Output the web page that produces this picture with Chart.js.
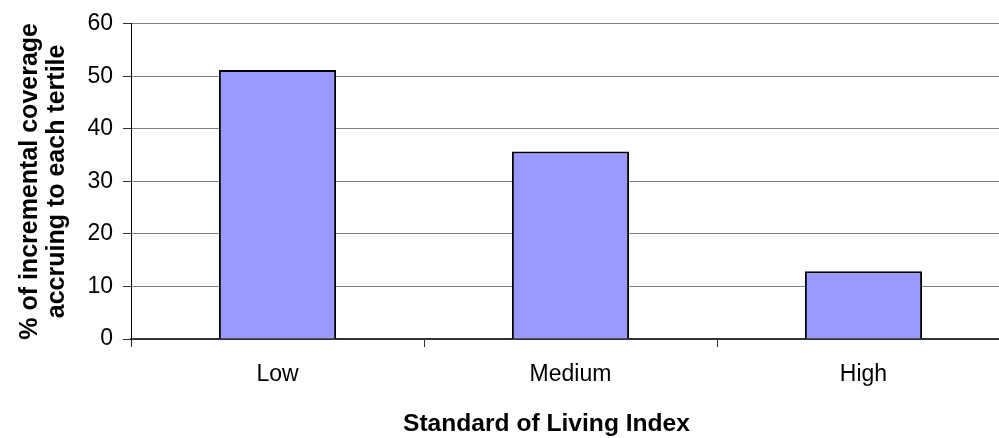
<!DOCTYPE html>
<html>
<head>
<meta charset="utf-8">
<script src="https://cdn.jsdelivr.net/npm/chart.js@4/dist/chart.umd.min.js"></script>
<style>
  html, body { margin: 0; padding: 0; overflow: hidden; background: #fff; }
  #wrap { width: 1093px; height: 438px; }
</style>
</head>
<body>
<div id="wrap"><canvas id="c" width="1093" height="438"></canvas></div>
<script>
// Share of incremental coverage going to each standard-of-living tertile
const categories = ['Low', 'Medium', 'High'];
const coverageShare = [51.2, 35.7, 12.9];
const yTicks = [0, 10, 20, 30, 40, 50, 60];
const xAxisTitle = 'Standard of Living Index';
const yAxisTitle = ['% of incremental coverage', 'accruing to each tertile'];

const FONT = '"Liberation Sans", Arial, Helvetica, sans-serif';

// x-axis caption, centred on the full canvas width
const bottomTitle = {
  id: 'bottomTitle',
  afterDraw(chart) {
    const ctx = chart.ctx;
    ctx.save();
    ctx.font = 'bold 24.6px ' + FONT;
    ctx.fillStyle = '#000';
    ctx.textAlign = 'center';
    ctx.textBaseline = 'middle';
    ctx.fillText(xAxisTitle, chart.width / 2, chart.height - 14);
    ctx.restore();
  }
};

new Chart(document.getElementById('c'), {
  type: 'bar',
  data: {
    labels: categories,
    datasets: [{
      data: coverageShare,
      backgroundColor: '#9999FF',
      borderColor: '#000000',
      borderWidth: 2,
      categoryPercentage: 1,
      barPercentage: 0.4
    }]
  },
  plugins: [bottomTitle],
  options: {
    responsive: false,
    animation: false,
    events: [],
    layout: { padding: { top: 23, right: 83, bottom: 0, left: 0 } },
    plugins: { legend: { display: false }, tooltip: { enabled: false } },
    scales: {
      x: {
        afterFit: s => { s.height = 99; },
        grid: { display: true, drawOnChartArea: false, drawTicks: true, tickLength: 8, color: '#333', offset: true },
        border: { display: true, color: '#333', width: 2 },
        ticks: { color: '#000', padding: 14, font: { family: FONT, size: 23 } }
      },
      y: {
        min: 0,
        max: 60,
        afterFit: s => { s.width = 131; },
        afterBuildTicks: s => { s.ticks = yTicks.map(v => ({ value: v })); },
        grid: { color: '#808080', lineWidth: 1, tickLength: 8, tickColor: '#333' },
        border: { display: true, color: '#000', width: 1 },
        ticks: { color: '#000', padding: 10, font: { family: FONT, size: 23 } },
        title: {
          display: true,
          text: yAxisTitle,
          color: '#000',
          padding: { top: 16, bottom: 0 },
          font: { family: FONT, size: 25, weight: 'bold', lineHeight: 1.1 }
        }
      }
    }
  }
});
</script>
</body>
</html>
